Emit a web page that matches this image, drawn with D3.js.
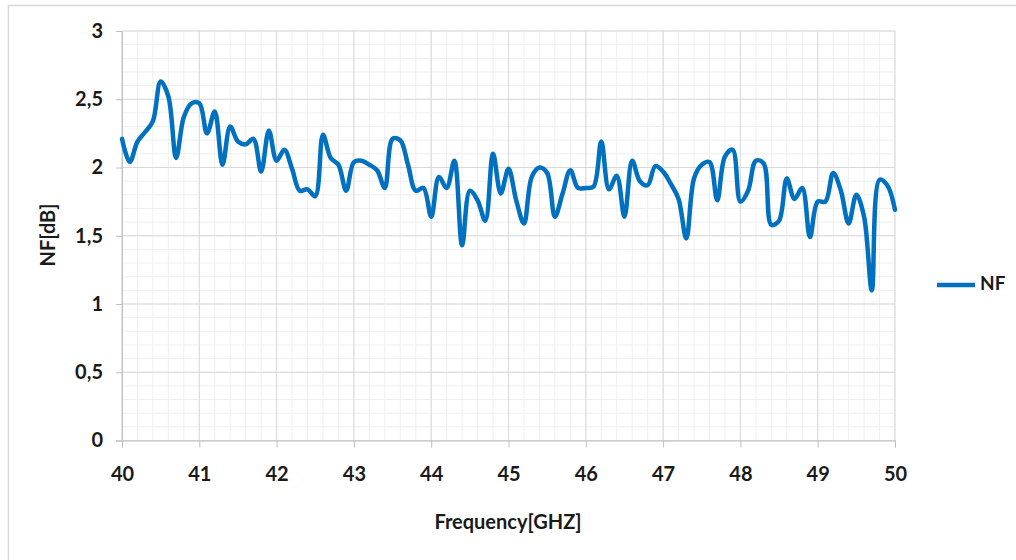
<!DOCTYPE html>
<html>
<head>
<meta charset="utf-8">
<script src="https://cdn.jsdelivr.net/npm/d3@7"></script>
<style>
  body { margin: 0; background: #fff; }
  text { font-family: Lato, "Open Sans", sans-serif; font-weight: bold; fill: #1a1a1a; }
</style>
</head>
<body>
<div id="chart"></div>
<script>
var frequencies = [
  40.0, 40.1, 40.2, 40.3, 40.4, 40.5, 40.6, 40.7, 40.8, 40.9,
  41.0, 41.1, 41.2, 41.3, 41.4, 41.5, 41.6, 41.7, 41.8, 41.9,
  42.0, 42.1, 42.2, 42.3, 42.4, 42.5, 42.6, 42.7, 42.8, 42.9,
  43.0, 43.1, 43.2, 43.3, 43.4, 43.5, 43.6, 43.7, 43.8, 43.9,
  44.0, 44.1, 44.2, 44.3, 44.4, 44.5, 44.6, 44.7, 44.8, 44.9,
  45.0, 45.1, 45.2, 45.3, 45.4, 45.5, 45.6, 45.7, 45.8, 45.9,
  46.0, 46.1, 46.2, 46.3, 46.4, 46.5, 46.6, 46.7, 46.8, 46.9,
  47.0, 47.1, 47.2, 47.3, 47.4, 47.5, 47.6, 47.7, 47.8, 47.9,
  48.0, 48.1, 48.2, 48.3, 48.4, 48.5, 48.6, 48.7, 48.8, 48.9,
  49.0, 49.1, 49.2, 49.3, 49.4, 49.5, 49.6, 49.7, 49.8, 49.9,
  50.0
];

var nfValues = [
  2.21, 2.04, 2.19, 2.26, 2.34, 2.63, 2.52, 2.07, 2.37, 2.47,
  2.47, 2.25, 2.41, 2.02, 2.30, 2.19, 2.17, 2.21, 1.97, 2.27,
  2.05, 2.13, 1.99, 1.83, 1.84, 1.79, 2.24, 2.07, 2.02, 1.83,
  2.04, 2.05, 2.02, 1.98, 1.85, 2.21, 2.20, 2.02, 1.83, 1.85,
  1.64, 1.93, 1.85, 2.05, 1.43, 1.83, 1.76, 1.61, 2.10, 1.81,
  1.99, 1.76, 1.59, 1.93, 2.00, 1.96, 1.64, 1.81, 1.98, 1.85,
  1.85, 1.86, 2.19, 1.84, 1.94, 1.64, 2.05, 1.90, 1.87, 2.01,
  1.97, 1.88, 1.77, 1.48, 1.92, 2.02, 2.04, 1.76, 2.08, 2.13,
  1.75, 1.83, 2.05, 2.03, 1.58, 1.61, 1.92, 1.77, 1.85, 1.49,
  1.75, 1.75, 1.96, 1.83, 1.59, 1.80, 1.64, 1.10, 1.91, 1.87,
  1.69
];

var xTicks = [40, 41, 42, 43, 44, 45, 46, 47, 48, 49, 50];
var yTicks = [0, 0.5, 1, 1.5, 2, 2.5, 3];
var seriesName = "NF";

drawChart();

function drawChart() {
  var width = 1016, height = 560;
  var plotLeft = 122, plotRight = 895, plotTop = 31, plotBottom = 440.5;

  var svg = d3.select("#chart").append("svg")
    .attr("width", width)
    .attr("height", height);

  // chart frame
  svg.append("rect")
    .attr("x", 8.5).attr("y", 5.5)
    .attr("width", 1030).attr("height", 580)
    .attr("fill", "none")
    .attr("stroke", "#d9d9d9")
    .attr("stroke-width", 1.5);

  var x = d3.scaleLinear().domain([40, 50]).range([plotLeft, plotRight]);
  var y = d3.scaleLinear().domain([0, 3]).range([plotBottom, plotTop]);

  // minor grid
  var minorX = d3.range(40, 50.001, 0.2);
  var minorY = d3.range(0, 3.001, 0.1);
  svg.append("g").selectAll("line").data(minorX).enter().append("line")
    .attr("x1", function(d) { return x(d); }).attr("x2", function(d) { return x(d); })
    .attr("y1", plotTop).attr("y2", plotBottom)
    .attr("stroke", "#efefef").attr("stroke-width", 1);
  svg.append("g").selectAll("line").data(minorY).enter().append("line")
    .attr("y1", function(d) { return y(d); }).attr("y2", function(d) { return y(d); })
    .attr("x1", plotLeft).attr("x2", plotRight)
    .attr("stroke", "#efefef").attr("stroke-width", 1);

  // major grid
  svg.append("g").selectAll("line").data(xTicks).enter().append("line")
    .attr("x1", function(d) { return x(d); }).attr("x2", function(d) { return x(d); })
    .attr("y1", plotTop).attr("y2", plotBottom)
    .attr("stroke", "#d9d9d9").attr("stroke-width", 1);
  svg.append("g").selectAll("line").data(yTicks).enter().append("line")
    .attr("y1", function(d) { return y(d); }).attr("y2", function(d) { return y(d); })
    .attr("x1", plotLeft).attr("x2", plotRight)
    .attr("stroke", "#d9d9d9").attr("stroke-width", 1);

  // axes
  var fmtY = function(d) { return String(d).replace(".", ","); };

  var xAxis = svg.append("g")
    .attr("transform", "translate(0," + plotBottom + ")")
    .call(d3.axisBottom(x).tickValues(xTicks).tickSize(7).tickPadding(19).tickFormat(d3.format("d")));
  xAxis.select(".domain").attr("stroke", "#bfbfbf");
  xAxis.selectAll(".tick line").attr("stroke", "#bfbfbf");
  xAxis.selectAll(".tick text").attr("font-size", "20px").attr("fill", "#1a1a1a")
    .attr("font-family", "Lato, sans-serif").attr("font-weight", "bold");

  var yAxis = svg.append("g")
    .attr("transform", "translate(" + plotLeft + ",0)")
    .call(d3.axisLeft(y).tickValues(yTicks).tickSize(6).tickPadding(13).tickFormat(fmtY));
  yAxis.select(".domain").attr("stroke", "#bfbfbf");
  yAxis.selectAll(".tick line").attr("stroke", "#bfbfbf");
  yAxis.selectAll(".tick text").attr("font-size", "20px").attr("fill", "#1a1a1a")
    .attr("font-family", "Lato, sans-serif").attr("font-weight", "bold");

  // series
  var points = frequencies.map(function(f, i) { return [f, nfValues[i]]; });
  var line = d3.line()
    .x(function(d) { return x(d[0]); })
    .y(function(d) { return y(d[1]); })
    .curve(d3.curveCatmullRom.alpha(0.5));

  svg.append("path")
    .datum(points)
    .attr("d", line)
    .attr("fill", "none")
    .attr("stroke", "#0070c0")
    .attr("stroke-width", 4.5)
    .attr("stroke-linejoin", "round")
    .attr("stroke-linecap", "round");

  // axis titles
  svg.append("text")
    .attr("x", 508).attr("y", 524)
    .attr("text-anchor", "middle").attr("dominant-baseline", "middle")
    .attr("font-size", "20px")
    .text("Frequency[GHZ]");

  svg.append("text")
    .attr("transform", "translate(50,235) rotate(-90)")
    .attr("text-anchor", "middle").attr("dominant-baseline", "middle")
    .attr("font-size", "20px")
    .text("NF[dB]");

  // legend
  svg.append("line")
    .attr("x1", 937).attr("x2", 975)
    .attr("y1", 285).attr("y2", 285)
    .attr("stroke", "#0070c0").attr("stroke-width", 4.5);
  svg.append("text")
    .attr("x", 980).attr("y", 285)
    .attr("dominant-baseline", "middle")
    .attr("font-size", "19px")
    .text(seriesName);
}
</script>
</body>
</html>
